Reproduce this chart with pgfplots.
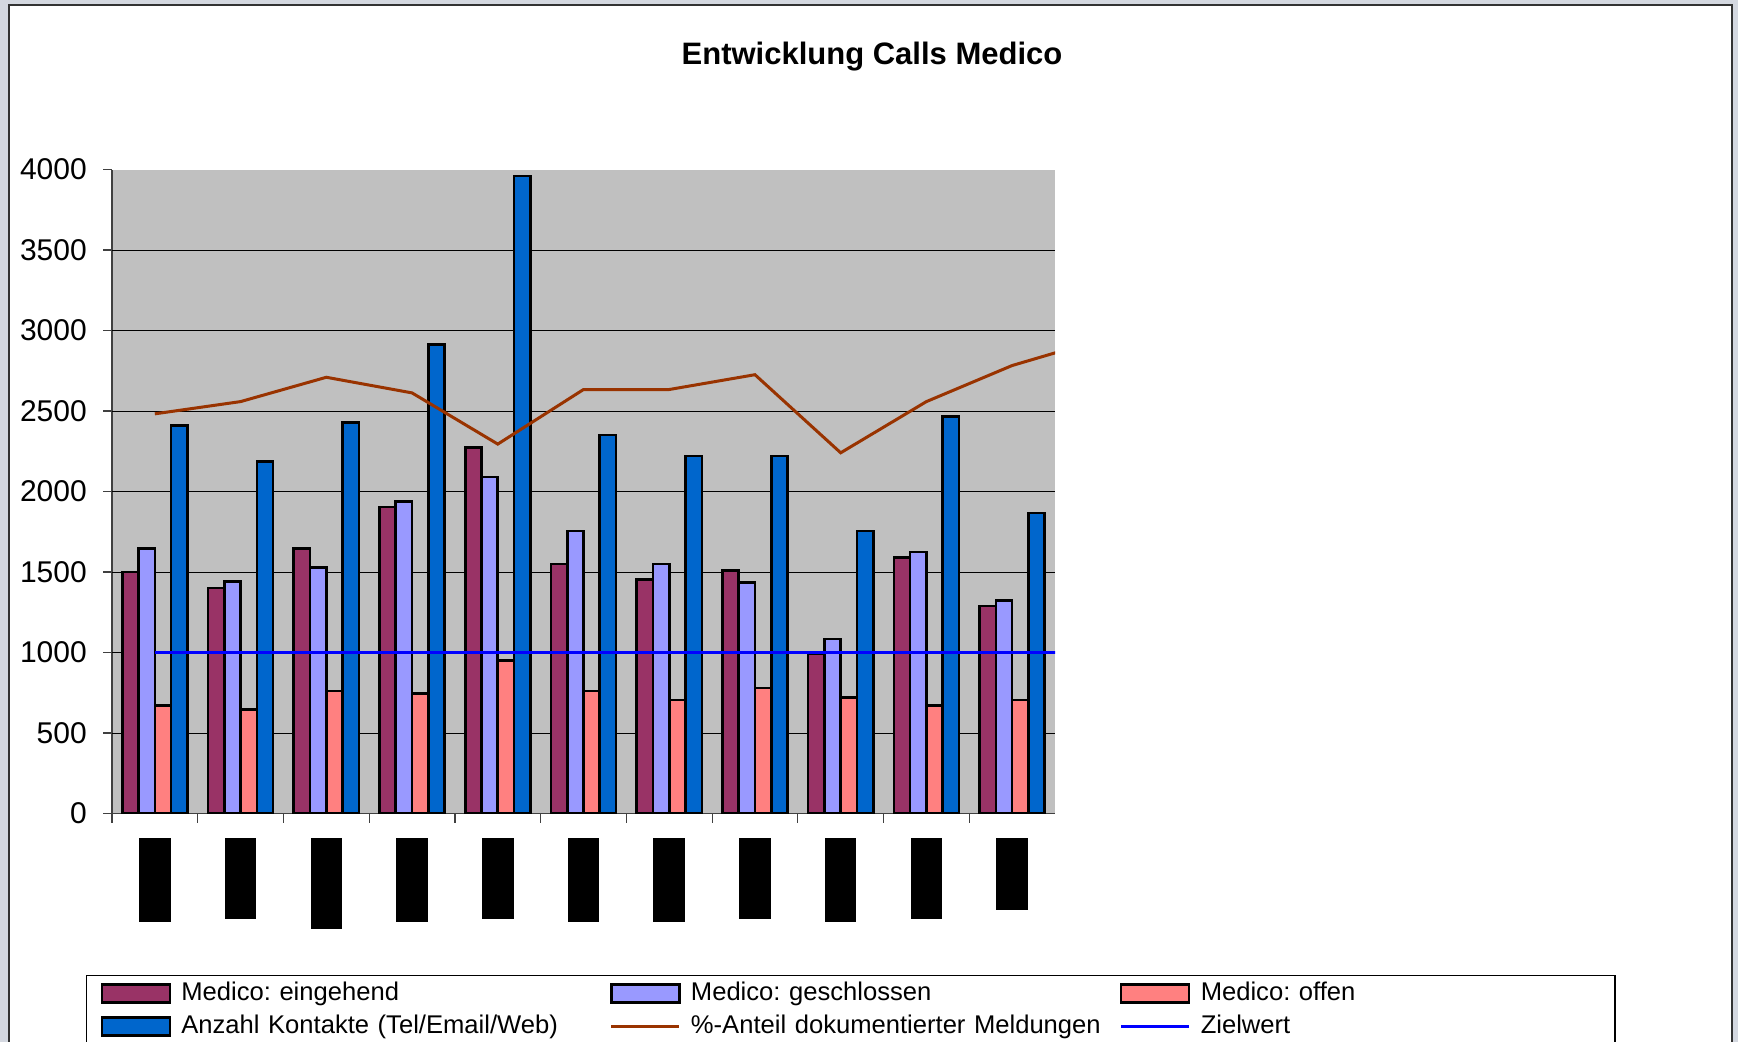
\documentclass[border=0pt]{standalone}
\usepackage{pgfplots}
\usepackage{pgfplotstable}
\pgfplotsset{compat=1.18}
\usepackage{fontspec}
\setmainfont{Liberation Sans}
\frenchspacing

\definecolor{eingehend}{HTML}{993366}
\definecolor{geschlossen}{HTML}{9999FF}
\definecolor{offen}{HTML}{FF8080}
\definecolor{kontakte}{HTML}{0066CC}
\definecolor{anteil}{HTML}{993300}
\definecolor{ziel}{HTML}{0000FF}
\definecolor{plotgray}{HTML}{C0C0C0}
\definecolor{framegray}{RGB}{212,216,224}

\pgfplotsset{
    barlegend/.style={legend image code/.code={\draw[##1] (0pt,-4.5pt) rectangle (34pt,4.5pt);}},
    linelegend/.style={legend image code/.code={\draw[##1] (0pt,0pt) -- (34pt,0pt);}},
}

% bars: one value per month (months are redacted in the source)
\pgfplotstableread{
x ein ges off kon
0 1500 1645 673 2410
1 1400 1440 648 2187
2 1645 1530 762 2430
3 1905 1940 746 2912
4 2275 2090 950 3960
5 1550 1755 762 2352
6 1455 1550 706 2222
7 1510 1435 780 2222
8 995  1085 722 1754
9 1590 1625 671 2465
10 1290 1325 706 1867
}\bardata

% lines (last point lies outside the plot and is clipped)
\pgfplotstableread{
x ant ziel
0 2483 1000
1 2559 1000
2 2710 1000
3 2613 1000
4 2295 1000
5 2634 1000
6 2634 1000
7 2726 1000
8 2241 1000
9 2559 1000
10 2783 1000
11 2940 1000
}\linedata

\begin{document}
\begin{tikzpicture}
\fill[framegray] (0,0) rectangle (869pt,521pt);
\path[use as bounding box] (0,0) rectangle (869pt,521pt);
\filldraw[fill=white, draw=black!80, line width=1pt] (4.5pt,-5pt) rectangle (866pt,518.5pt);

\node[anchor=base, font=\bfseries\fontsize{15.5}{18}\selectfont] at (436pt,488.5pt) {Entwicklung Calls Medico};

\begin{axis}[
    scale only axis,
    width=471.5pt, height=322pt,
    at={(56pt,114.2pt)}, anchor=south west,
    xmin=-0.5, xmax=10.5,
    ymin=0, ymax=4000,
    axis x line*=bottom, axis y line*=left,
    axis line style={-, black!75, line width=0.6pt},
    axis background/.style={fill=plotgray},
    tick align=outside,
    major tick length=4.5pt,
    tick style={black!75, line width=0.6pt},
    xtick={0,...,10},
    xtick style={draw=none},
    xticklabels={\rule{15.8pt}{42pt},\rule{15.8pt}{40.5pt},\rule{15.8pt}{45.5pt},\rule{15.8pt}{42pt},\rule{15.8pt}{40.5pt},\rule{15.8pt}{42pt},\rule{15.8pt}{42pt},\rule{15.8pt}{40.5pt},\rule{15.8pt}{42pt},\rule{15.8pt}{40.5pt},\rule{15.8pt}{36pt}},
    xticklabel style={anchor=north, inner sep=0pt, yshift=-7.5pt},
    extra x ticks={-0.5,0.5,1.5,2.5,3.5,4.5,5.5,6.5,7.5,8.5,9.5},
    extra x tick labels={},
    extra x tick style={xtick style={draw=black!75, line width=0.6pt}},
    ytick={0,500,...,4000},
    extra y ticks={500,1000,...,3500},
    extra y tick labels={},
    extra y tick style={ymajorgrids=true, major tick length=0pt},
    grid style={black, line width=0.5pt},
    yticklabel style={anchor=east, inner sep=0pt, xshift=-7.9pt},
    tick label style={font=\fontsize{15}{17}\selectfont},
    /pgf/number format/assume math mode=true,
    /pgf/number format/1000 sep={},
    legend columns=3,
    legend cell align=left,
    legend style={
        at={(axis description cs:-0.02757,-0.2506)}, anchor=north west,
        draw=black, line width=0.75pt, fill=white,
        inner xsep=7pt, inner ysep=0.5pt,
        column sep=0pt, row sep=0pt,
        font=\fontsize{12.8}{14}\selectfont,
        nodes={text height=12pt, text depth=4.5pt, inner ysep=0pt, inner xsep=5pt, text width=209.3pt, anchor=west},
        /tikz/column 6/.style={nodes={text width=195pt}},
    },
]

\addplot[ybar, bar width=0.19, bar shift=-0.285, fill=eingehend, draw=black, line width=1.3pt, barlegend]
    table[x=x, y=ein] {\bardata};
\addlegendentry{Medico: eingehend}

\addplot[ybar, bar width=0.19, bar shift=-0.095, fill=geschlossen, draw=black, line width=1.3pt, barlegend]
    table[x=x, y=ges] {\bardata};
\addlegendentry{Medico: geschlossen}

\addplot[ybar, bar width=0.19, bar shift=0.095, fill=offen, draw=black, line width=1.3pt, barlegend]
    table[x=x, y=off] {\bardata};
\addlegendentry{Medico: offen}

\addplot[ybar, bar width=0.19, bar shift=0.285, fill=kontakte, draw=black, line width=1.3pt, barlegend]
    table[x=x, y=kon] {\bardata};
\addlegendentry{Anzahl Kontakte (Tel/Email/Web)}

\addplot[sharp plot, no marks, color=anteil, line width=1.5pt, linelegend]
    table[x=x, y=ant] {\linedata};
\addlegendentry{\%-Anteil dokumentierter Meldungen}

\addplot[sharp plot, no marks, color=ziel, line width=1.6pt, linelegend]
    table[x=x, y=ziel] {\linedata};
\addlegendentry{Zielwert}

\end{axis}
\end{tikzpicture}
\end{document}
